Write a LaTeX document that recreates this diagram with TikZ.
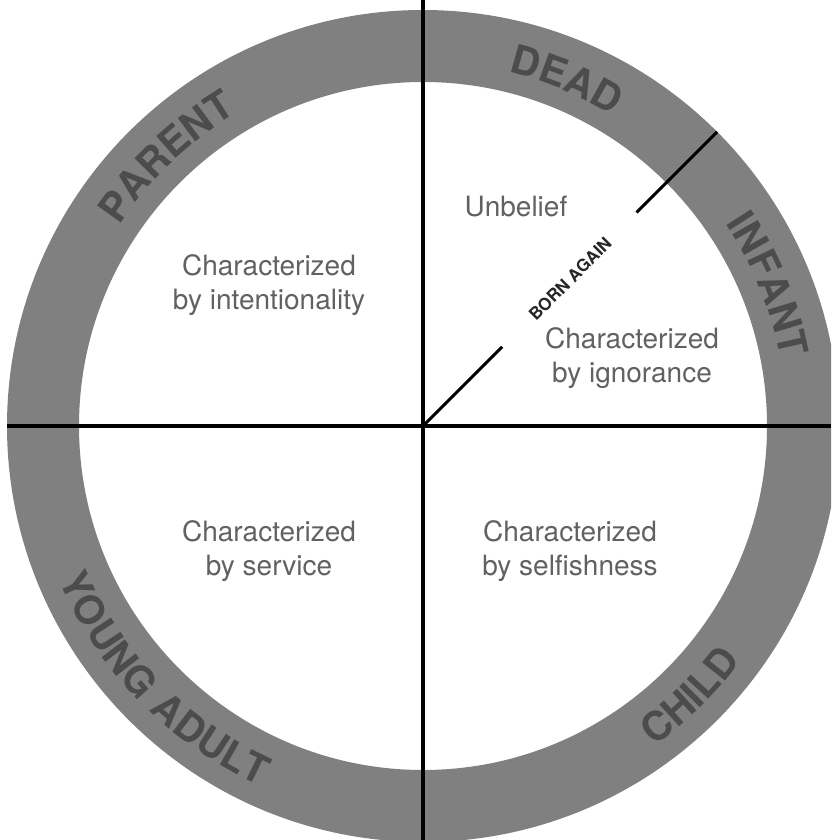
\documentclass[tikz,border=0pt]{standalone}
\usepackage{fontspec}
\setmainfont{TeX Gyre Heros}
\newfontfamily\ringfamily[LetterSpace=6]{TeX Gyre Heros}
\usetikzlibrary{decorations.text,calc}
\definecolor{ringgray}{gray}{0.5}
\definecolor{ringtext}{gray}{0.3}
\definecolor{bodytext}{gray}{0.38}
\newcommand\ringfnt{\ringfamily\fontsize{40}{40}\selectfont\bfseries}
\begin{document}
\begin{tikzpicture}[x=1pt,y=1pt,
  body/.style={text=bodytext, align=center, font=\fontsize{28}{34}\selectfont, inner sep=0pt},
  divider/.style={black, line width=4pt},
  cwlabel/.style={decorate, decoration={text along path, text align=center, text color=ringtext, text={|\ringfnt|#1}}},
]
\useasboundingbox (0,0) rectangle (831,840);
\clip (0,0) rectangle (831,840);
\coordinate (C) at (423,414);
\fill[ringgray, even odd rule] (C) circle[radius=416] (C) circle[radius=344];

% dividers
\coordinate (top) at (423,840);
\coordinate (bot) at (423,0);
\coordinate (lft) at (7,414);
\coordinate (rgt) at (831,414);
\draw[divider] (top) -- (bot);
\draw[divider] (lft) -- (rgt);
\path (C) ++(45:112) coordinate (d1);
\path (C) ++(45:302) coordinate (d2);
\path (C) ++(45:416) coordinate (d3);
\draw[black, line width=3pt] (C) -- (d1);
\draw[black, line width=3pt] (d2) -- (d3);
\node[rotate=45, font=\fontsize{17}{17}\selectfont\bfseries, text=black!85] (born) at ($(C)+(45:208)$) {BORN AGAIN};

% ring labels (clockwise, tops outward)
\path[cwlabel={PARENT}] (C) ++(178.6:364) arc[start angle=178.6, end angle=88.6, radius=364];
\path[cwlabel={DEAD}] (C) ++(112.5:364) arc[start angle=112.5, end angle=22.5, radius=364];
\path[cwlabel={INFANT}] (C) ++(67.2:364) arc[start angle=67.2, end angle=-22.8, radius=364];
% ring labels (counter-clockwise, tops inward)
\path[cwlabel={CHILD}] (C) ++(-90.3:395) arc[start angle=-90.3, end angle=-0.3, radius=395];
\path[cwlabel={YOUNG ADULT}] (C) ++(-180.7:395) arc[start angle=-180.7, end angle=-90.7, radius=395];

% quadrant texts
\node[body] (intent) at (269,555) {Characterized\\by intentionality};
\node[body] (unbelief) at (516,633) {Unbelief};
\node[body] (ignor) at (632,482) {Characterized\\by ignorance};
\node[body] (service) at (269,289) {Characterized\\by service};
\node[body] (selfish) at (570,289) {Characterized\\by selfishness};
\end{tikzpicture}
\end{document}
